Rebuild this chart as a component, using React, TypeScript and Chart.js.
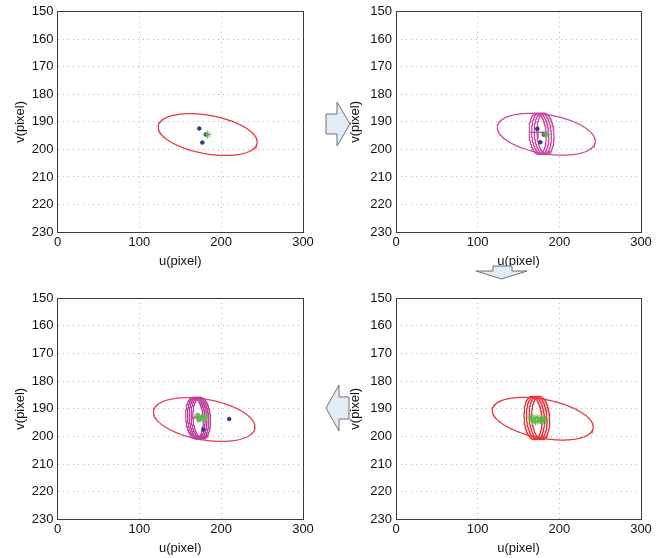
import React, { useEffect, useRef } from 'react';
import { Chart, registerables } from 'chart.js';
Chart.register(...registerables);

// ---------- axis ticks ----------
const xTicks = [0, 100, 200, 300];
const yTicks = [150, 160, 170, 180, 190, 200, 210, 220, 230];
const xLabel = 'u(pixel)';
const yLabel = 'v(pixel)';

// ellipse = [cx, cy, rx, ry, rho]; ring = [cy, rx, ry, rho] with centre x list
// ---------- panel 1 (top left) ----------
const p1Ellipse = [183.5, 194.6, 60.5, 7.6, 0.36];
const p1Blue: [number, number][] = [[173.3, 192.4], [181.1, 194.6], [177.0, 197.5]];
const p1Green: [number, number][] = [[183.5, 194.6]];

// ---------- panel 2 (top right) ----------
const p2Ellipse = [184.0, 194.5, 60.0, 7.6, 0.33];
const p2RingX = [173.5, 176.6, 179.8, 183.0];
const p2Ring = [194.3, 10.5, 7.5, 0.12];
const p2Blue: [number, number][] = [[173.0, 192.5], [176.7, 197.4], [181.0, 194.6]];
const p2Green: [number, number][] = [[184.2, 194.6]];
const p2Star: [number, number][] = [[182.8, 194.4]];
const p2CrossH: [number, number][] = [[164.0, 193.8], [184.0, 193.8]];
const p2CrossV: [number, number][] = [[174.0, 191.6], [174.0, 196.0]];

// ---------- panel 3 (bottom left) ----------
const p3Ellipse = [179.3, 193.9, 62.0, 7.9, 0.34];
const p3RingX = [167.4, 169.6, 171.8, 174.0, 176.2];
const p3Ring = [193.35, 10.8, 7.5, 0.12];
const p3Blue: [number, number][] = [[178.2, 197.5], [209.8, 193.7]];
const p3Green: [number, number][] = [[170.1, 192.7], [173.3, 192.9], [176.2, 193.1], [179.0, 193.5], [181.5, 192.9], [174.5, 193.8]];
const p3Star: [number, number][] = [[173.5, 193.3]];
const p3CrossH: [number, number][] = [[164.0, 193.3], [183.0, 193.3]];
const p3CrossV: [number, number][] = [[171.5, 191.4], [171.5, 195.0]];

// ---------- panel 4 (bottom right) ----------
const p4Ellipse = [179.7, 193.6, 61.8, 7.7, 0.39];
const p4RingX = [167.7, 170.8, 174.0, 177.2];
const p4Ring = [193.3, 11.0, 7.8, 0.12];
const p4Green: [number, number][] = [
  [165.0, 193.0], [167.0, 194.5], [169.0, 193.5], [171.0, 194.8], [173.0, 193.2],
  [175.0, 194.3], [177.0, 193.8], [179.0, 194.6], [181.0, 193.5], [183.0, 194.2],
];

// ---------- colours ----------
const RED = '#e8343d';
const MAGENTA = '#c64a9e';
const PINKRED = '#e6405a';
const RING_MAG = '#c03c9c';
const BLUE = '#2b3990';
const GREEN = '#5cb84a';
const GREYSTAR = '#9a7a9a';

const W = 334;
const H = 279;
const FONT = "'Liberation Sans', Arial, Helvetica, sans-serif";

function ellipsePts(e: number[], n = 180) {
  const [cx, cy, rx, ry, rho] = e;
  const s = Math.sqrt(1 - rho * rho);
  const pts: { x: number; y: number }[] = [];
  for (let i = 0; i <= n; i++) {
    const t = (2 * Math.PI * i) / n;
    pts.push({ x: cx + rx * Math.cos(t), y: cy + ry * (rho * Math.cos(t) + s * Math.sin(t)) });
  }
  return pts;
}
const xy = (a: [number, number][]) => a.map(([x, y]) => ({ x, y }));

function lineDs(data: any[], color: string, width = 1.25) {
  return { data, showLine: true, borderColor: color, borderWidth: width, pointRadius: 0, fill: false, tension: 0 };
}
function markerDs(data: any[], style: string, color: string, radius: number, bw = 1) {
  return { data, showLine: false, pointStyle: style, pointRadius: radius, borderColor: color, backgroundColor: color, borderWidth: bw };
}
function rings(xs: number[], r: number[], color: string) {
  return xs.map((cx) => lineDs(ellipsePts([cx, r[0], r[1], r[2], r[3]]), color));
}

const framePlugin = {
  id: 'frame',
  afterDraw(chart: any) {
    const { ctx, chartArea: a } = chart;
    ctx.save();
    ctx.strokeStyle = '#3c3c3c';
    ctx.lineWidth = 1;
    const l = Math.floor(a.left) + 0.5;
    const t = Math.floor(a.top) + 0.5;
    const r = Math.floor(a.right) + 0.5;
    const b = Math.floor(a.bottom) + 0.5;
    ctx.strokeRect(l, t, r - l, b - t);
    ctx.restore();
  },
};

type Cfg = {
  left: number; top: number;
  areaLeft: number; areaRight: number; areaTop: number; areaBottom: number;
  yTitlePad: number; xTitlePad: number;
  datasets: any[];
};

const panels: Cfg[] = [
  {
    left: 0, top: 0, areaLeft: 57.5, areaRight: 303, areaTop: 10.5, areaBottom: 232, yTitlePad: 12.2, xTitlePad: 10.2,
    datasets: [
      markerDs(xy(p1Green), 'star', GREEN, 4),
      markerDs(xy(p1Blue), 'circle', BLUE, 1.8),
      lineDs(ellipsePts(p1Ellipse), RED),
    ],
  },
  {
    left: 334, top: 0, areaLeft: 62, areaRight: 307, areaTop: 10.5, areaBottom: 232, yTitlePad: 13.7, xTitlePad: 10.2,
    datasets: [
      markerDs(xy(p2Green), 'star', GREEN, 3.5),
      markerDs(xy(p2Star), 'star', GREYSTAR, 4),
      markerDs(xy(p2Blue), 'circle', BLUE, 1.8),
      lineDs(xy(p2CrossH), MAGENTA, 1.2),
      lineDs(xy(p2CrossV), MAGENTA, 1.2),
      ...rings(p2RingX, p2Ring, MAGENTA),
      lineDs(ellipsePts(p2Ellipse), MAGENTA),
    ],
  },
  {
    left: 0, top: 279, areaLeft: 57.5, areaRight: 303, areaTop: 19, areaBottom: 240.5, yTitlePad: 12.2, xTitlePad: 2.2,
    datasets: [
      markerDs(xy(p3Green), 'star', GREEN, 3.5),
      markerDs(xy(p3Star), 'star', GREYSTAR, 4),
      markerDs(xy(p3Blue), 'circle', BLUE, 1.8),
      lineDs(xy(p3CrossH), RING_MAG, 1.2),
      lineDs(xy(p3CrossV), RING_MAG, 1.2),
      ...rings(p3RingX, p3Ring, RING_MAG),
      lineDs(ellipsePts(p3Ellipse), PINKRED),
    ],
  },
  {
    left: 334, top: 279, areaLeft: 62, areaRight: 307, areaTop: 19, areaBottom: 240.5, yTitlePad: 13.7, xTitlePad: 2.2,
    datasets: [
      markerDs(xy(p4Green), 'star', GREEN, 3.5),
      ...rings(p4RingX, p4Ring, RED),
      lineDs(ellipsePts(p4Ellipse), RED),
    ],
  },
];

function Panel({ cfg }: { cfg: Cfg }) {
  const ref = useRef<HTMLCanvasElement>(null);
  useEffect(() => {
    if (!ref.current) return;
    const gridColor = (edgeA: number, edgeB: number) => (c: any) =>
      c.tick && (c.tick.value === edgeA || c.tick.value === edgeB) ? 'rgba(0,0,0,0)' : '#b4b4b4';
    const chart = new Chart(ref.current, {
      type: 'scatter',
      data: { datasets: cfg.datasets },
      options: {
        responsive: false,
        animation: false,
        devicePixelRatio: 1,
        events: [],
        plugins: { legend: { display: false }, tooltip: { enabled: false } },
        layout: { padding: { left: 0, top: cfg.areaTop, right: W - cfg.areaRight, bottom: 0 } },
        scales: {
          x: {
            type: 'linear',
            min: xTicks[0],
            max: xTicks[xTicks.length - 1],
            afterBuildTicks: (s: any) => { s.ticks = xTicks.map((v) => ({ value: v })); },
            afterFit: (s: any) => { s.height = H - cfg.areaBottom; },
            ticks: { autoSkip: false, maxRotation: 0, padding: 2.5, color: '#111', font: { family: FONT, size: 13 } },
            grid: { color: gridColor(xTicks[0], xTicks[xTicks.length - 1]), lineWidth: 1, drawTicks: false },
            border: { display: false, dash: [1, 4] },
            title: { display: true, text: xLabel, color: '#111', font: { family: FONT, size: 13 }, padding: { top: 0, bottom: cfg.xTitlePad } },
          },
          y: {
            type: 'linear',
            reverse: true,
            min: yTicks[0],
            max: yTicks[yTicks.length - 1],
            afterBuildTicks: (s: any) => { s.ticks = yTicks.map((v) => ({ value: v })); },
            afterFit: (s: any) => { s.width = cfg.areaLeft; },
            ticks: { autoSkip: false, padding: 4, color: '#111', font: { family: FONT, size: 13 } },
            grid: { color: gridColor(yTicks[0], yTicks[yTicks.length - 1]), lineWidth: 1, drawTicks: false },
            border: { display: false, dash: [1, 4] },
            title: { display: true, text: yLabel, color: '#111', font: { family: FONT, size: 13 }, padding: { top: cfg.yTitlePad, bottom: 0 } },
          },
        },
      } as any,
      plugins: [framePlugin],
    });
    return () => chart.destroy();
  }, []);
  return (
    <canvas
      ref={ref}
      width={W}
      height={H}
      style={{ position: 'absolute', left: cfg.left, top: cfg.top, width: W, height: H, display: 'block' }}
    />
  );
}

export default function App() {
  const fill = '#e3ebf6';
  const stroke = '#707070';
  return (
    <div style={{ position: 'absolute', left: 0, top: 0, width: 668, height: 558, background: '#fff', overflow: 'hidden' }}>
      {panels.map((p, i) => (
        <Panel key={i} cfg={p} />
      ))}
      <svg width={668} height={558} style={{ position: 'absolute', left: 0, top: 0, pointerEvents: 'none' }}>
        <polygon points="326,114 337,114 337,102 350,124 337,146 337,134 326,134" fill={fill} stroke={stroke} strokeWidth={1} />
        <polygon points="493,266 512,266 512,271 527,271 501.5,279 476,271 493,271" fill={fill} stroke={stroke} strokeWidth={1} />
        <polygon points="349,397 339,397 339,385 326,408 339,431 339,419 349,419" fill={fill} stroke={stroke} strokeWidth={1} />
      </svg>
    </div>
  );
}
